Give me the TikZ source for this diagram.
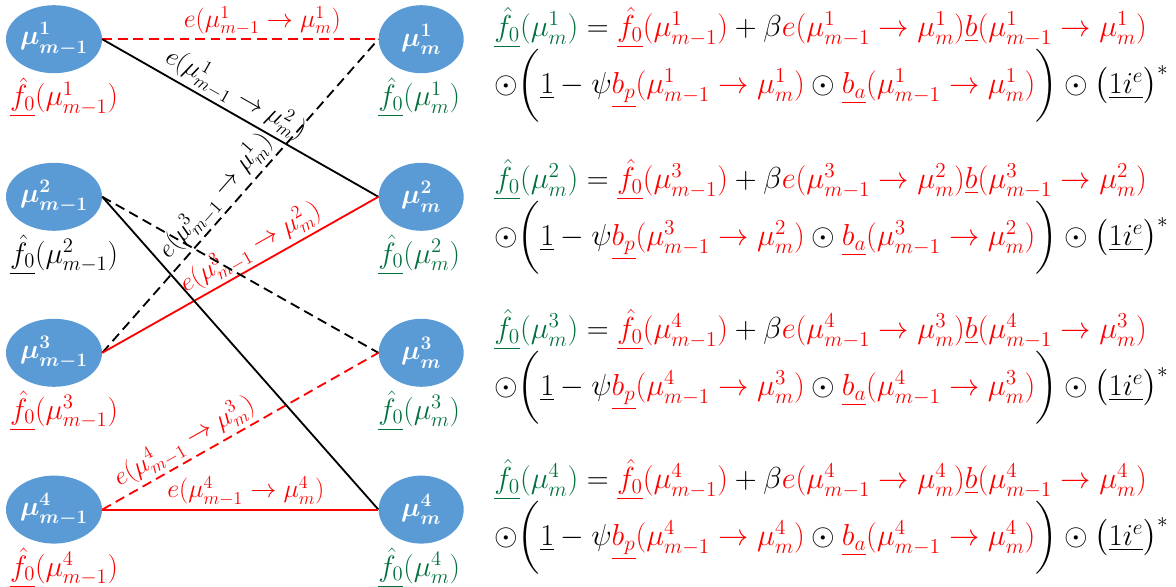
\RequirePackage{fix-cm}
\documentclass[tikz,border=0pt]{standalone}
\usepackage{amsmath,amssymb,mathtools}
\usepackage{xcolor}
\usepackage{tikz}
\usetikzlibrary{positioning,shapes.geometric}

\definecolor{nodeblue}{RGB}{91,155,213}
\definecolor{fgreen}{RGB}{0,112,60}

\makeatletter
\newcommand{\midl}{\mathopen{\bBigg@{1.75}(}}
\newcommand{\midr}{\mathclose{\bBigg@{1.75})}}
\makeatother

\newcommand{\fnot}{\underline{\hat{f}_0}}
\newcommand{\updtop}[2]{\textcolor{fgreen}{\fnot(\mu^{#1}_m)} = \textcolor{red}{\fnot(\mu^{#2}_{m-1})} + \beta\textcolor{red}{e(\mu^{#2}_{m-1}\to\mu^{#1}_m)\underline{b}(\mu^{#2}_{m-1}\to\mu^{#1}_m)}}
\newcommand{\updbot}[2]{\odot\midl\underline{1}-\psi\textcolor{red}{\underline{b_p}(\mu^{#2}_{m-1}\to\mu^{#1}_m)}\odot\textcolor{red}{\underline{b_a}(\mu^{#2}_{m-1}\to\mu^{#1}_m)}\midr\odot\big(\underline{1i^e}\big)^{*}}

\begin{document}
\begin{tikzpicture}[
  mu/.style={ellipse, fill=nodeblue, minimum width=2.125cm, minimum height=1.7cm, inner sep=0pt, text=white, font=\fontsize{19.5}{22}\selectfont},
  lab/.style={font=\fontsize{21}{24}\selectfont},
  elab/.style={font=\fontsize{18.5}{21}\selectfont, sloped, above, inner sep=2pt},
  eqn/.style={anchor=west, inner sep=0pt, font=\fontsize{21.6}{25}\selectfont},
  link/.style={line width=1.3pt},
  dashlink/.style={link, dash pattern=on 7pt off 4pt}
]
\useasboundingbox (0,0) rectangle (29.4,-14.675);
\foreach \r/\y/\c in {1/-0.98/red, 2/-4.92/black, 3/-8.82/red, 4/-12.74/red} {
  \node[mu] (L\r) at (1.35,\y) {$\boldsymbol{\mu^{\r}_{m-1}}$};
  \node[mu] (R\r) at (10.53,\y) {$\boldsymbol{\mu^{\r}_{m}}$};
  \node[lab, text=\c] (fL\r) at (1.6,\y-1.46) {$\fnot(\mu^{\r}_{m-1})$};
  \node[lab, text=fgreen] (fR\r) at (10.48,\y-1.46) {$\fnot(\mu^{\r}_m)$};
}
\draw[dashlink, red] (L1.east) -- node[elab, pos=0.58] {$e(\mu^1_{m-1}\to\mu^1_m)$} (R1.west);
\draw[link] (L1.east) -- node[elab, pos=0.45] {$e(\mu^1_{m-1}\to\mu^2_m)$} (R2.west);
\draw[dashlink] (L3.east) -- node[elab, pos=0.46] {$e(\mu^3_{m-1}\to\mu^1_m)$} (R1.west);
\draw[link, red] (L3.east) -- node[elab, pos=0.57] {$e(\mu^3_{m-1}\to\mu^2_m)$} (R2.west);
\draw[dashlink] (L2.east) -- (R3.west);
\draw[link] (L2.east) -- (R4.west);
\draw[dashlink, red] (L4.east) -- node[elab, pos=0.33] {$e(\mu^4_{m-1}\to\mu^3_m)$} (R3.west);
\draw[link, red] (L4.east) -- node[elab, pos=0.52] {$e(\mu^4_{m-1}\to\mu^4_m)$} (R4.west);
\foreach \t/\s/\y in {1/1/-0.7, 2/3/-4.5, 3/4/-8.25, 4/4/-12.0} {
  \node[eqn] (eqt\t) at (12.35,\y) {$\updtop{\t}{\s}$};
  \node[eqn] (eqb\t) at (12.35,\y-1.45) {$\updbot{\t}{\s}$};
}
\end{tikzpicture}
\end{document}
